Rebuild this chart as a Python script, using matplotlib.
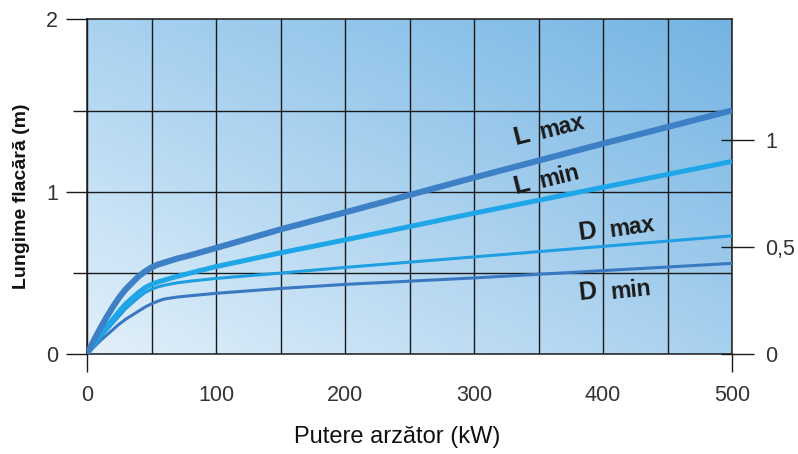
import numpy as np
import matplotlib
matplotlib.use('Agg')
import matplotlib.pyplot as plt
from matplotlib.colors import to_rgb
from matplotlib.ticker import FixedLocator, NullFormatter

# ---- data ----
power_kw = [0, 5, 10, 15, 20, 25, 30, 35, 40, 45, 50, 55, 60, 70, 80, 100, 150, 200, 300, 400, 500]
l_max = [0, 0.08, 0.155, 0.225, 0.29, 0.35, 0.40, 0.44, 0.48, 0.51, 0.535, 0.553, 0.565,
         0.59, 0.61, 0.655, 0.77, 0.875, 1.09, 1.30, 1.505]
l_min = [0, 0.06, 0.115, 0.165, 0.215, 0.265, 0.31, 0.345, 0.38, 0.41, 0.43, 0.445, 0.457,
         0.48, 0.50, 0.54, 0.625, 0.705, 0.87, 1.03, 1.19]
d_max = [0, 0.05, 0.10, 0.145, 0.19, 0.235, 0.28, 0.315, 0.35, 0.38, 0.40, 0.415, 0.425,
         0.44, 0.45, 0.467, 0.50, 0.535, 0.60, 0.665, 0.73]
d_min = [0, 0.04, 0.08, 0.115, 0.15, 0.185, 0.215, 0.24, 0.265, 0.29, 0.31, 0.327, 0.34,
         0.352, 0.36, 0.375, 0.405, 0.43, 0.47, 0.515, 0.56]

x_ticks = [0, 100, 200, 300, 400, 500]
x_grid = [50, 150, 250, 350, 450]
left_tick_labels = ['0', '1', '2']
left_grid = [0.5, 1.5]
right_ticks = [0, 0.5, 1]
right_tick_labels = ['0', '0,5', '1']

Y_TOP = 2.07
RIGHT_TOP = 1.565

plt.rcParams['font.family'] = ['Liberation Sans', 'DejaVu Sans']

fig = plt.figure(figsize=(7.98, 4.54), dpi=100)
ax = fig.add_axes([87/798, 1-354/454, (732-87)/798, (354-19)/454])

# gradient background
c_bl = np.array(to_rgb('#e2f0fa'))
c_tl = np.array(to_rgb('#a9d2f0'))
c_br = np.array(to_rgb('#a8d0ef'))
c_tr = np.array(to_rgb('#74b4e2'))
n = 200
u = np.linspace(0, 1, n)[None, :, None]
v = np.linspace(1, 0, n)[:, None, None]
img = (c_bl*(1-u)*(1-v) + c_br*u*(1-v) + c_tl*(1-u)*v + c_tr*u*v)
ax.imshow(img, extent=[0, 500, 0, Y_TOP], aspect='auto', zorder=0,
          interpolation='bilinear')

ax.set_xlim(0, 500)
ax.set_ylim(0, Y_TOP)

# grid
ax.xaxis.set_major_locator(FixedLocator(x_ticks))
ax.xaxis.set_minor_locator(FixedLocator([0, 500]))
ax.xaxis.remove_overlapping_locs = False
for xv in x_ticks + x_grid:
    ax.axvline(xv, color='#1a1a1a', lw=1.0, zorder=1)
for yv in left_grid + [1.0]:
    ax.axhline(yv, color='#1a1a1a', lw=1.0, zorder=1)

ax.yaxis.set_major_locator(FixedLocator([0, 1, Y_TOP]))
ax.set_yticklabels(left_tick_labels)
ax.yaxis.set_minor_locator(FixedLocator(left_grid))
ax.yaxis.set_minor_formatter(NullFormatter())

ax.tick_params(axis='x', which='major', length=0, pad=22, labelsize=15.5,
               labelcolor='#333333')
ax.tick_params(axis='x', which='minor', length=13, width=1.0, color='#1a1a1a',
               direction='out')
ax.tick_params(axis='y', which='major', length=15, width=1.0, color='#1a1a1a',
               pad=6, labelsize=15.5, labelcolor='#333333')
ax.tick_params(axis='y', which='minor', length=10, width=1.0, color='#1a1a1a')

for s in ax.spines.values():
    s.set_color('#1a1a1a')
    s.set_linewidth(1.1)

# curves
ax.plot(power_kw, d_min, color='#3a79c2', lw=2.2, zorder=3, solid_capstyle='butt')
ax.plot(power_kw, d_max, color='#1f9fe2', lw=2.2, zorder=3, solid_capstyle='butt')
ax.plot(power_kw, l_min, color='#1ea6e8', lw=3.6, zorder=4, solid_capstyle='butt')
ax.plot(power_kw, l_max, color='#3d80c6', lw=4.4, zorder=5, solid_capstyle='butt')

# curve labels
def lab(x, y, s, size, rot):
    ax.text(x, y, s, fontsize=size, fontweight='bold', color='#1a1a1a',
            rotation=rot, rotation_mode='anchor', ha='center', va='center', zorder=6)

lab(337, 1.343, 'L', 19, 14)
lab(368, 1.40, 'max', 16.5, 14)
lab(337, 1.045, 'L', 19, 14)
lab(366, 1.096, 'min', 16.5, 14)
lab(388, 0.754, 'D', 18, 8)
lab(423, 0.78, 'max', 16.5, 8)
lab(388, 0.383, 'D', 18, 6)
lab(422, 0.395, 'min', 16.5, 6)

# right axis
ax2 = ax.twinx()
ax2.set_ylim(0, RIGHT_TOP)
ax2.yaxis.set_major_locator(FixedLocator(right_ticks))
ax2.set_yticklabels(right_tick_labels)
ax2.yaxis.set_minor_locator(FixedLocator(right_ticks))
ax2.yaxis.set_minor_formatter(NullFormatter())
ax2.yaxis.remove_overlapping_locs = False
ax2.tick_params(axis='y', which='major', direction='out', length=16, width=1.0,
                color='#1a1a1a', pad=8, labelsize=15.5, labelcolor='#333333')
ax2.tick_params(axis='y', which='minor', direction='in', length=8, width=1.0,
                color='#1a1a1a')
for s in ax2.spines.values():
    s.set_visible(False)

fig.text(397/798, 1-437/454, 'Putere arzător (kW)', fontsize=17, color='#111111',
         ha='center', va='center')
fig.text(22/798, 1-196/454, 'Lungime flacără (m)', fontsize=14, fontweight='bold',
         color='#111111', ha='center', va='center', rotation=90)

fig.savefig('out.png', dpi=100)
